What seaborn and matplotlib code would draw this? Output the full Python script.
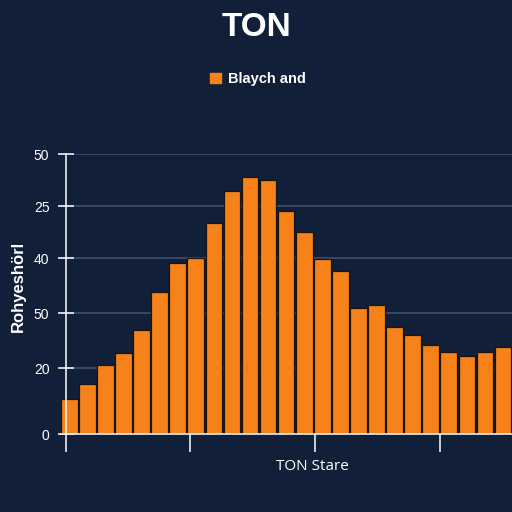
import numpy as np
import pandas as pd
import matplotlib
matplotlib.use("Agg")
import matplotlib.pyplot as plt
import seaborn as sns

# values (in axis units of the drawn scale)
bins = list(range(25))
heights = [6.3, 9.1, 12.5, 14.7, 18.9, 25.9, 31.1, 32.1, 38.4, 44.2,
           46.9, 46.2, 40.7, 36.8, 31.8, 29.6, 23.0, 23.5, 19.5, 18.0,
           16.3, 15.0, 14.2, 14.9, 15.8]
ytick_pos = [0, 12, 22, 32, 41.5, 51]
ytick_labels = ["0", "20", "50", "40", "25", "50"]
xtick_pos = [-0.2, 6.7, 13.6, 20.5]

title = "TON"
series_name = "Blaych and"
xlabel = "TON Stare"
ylabel = "Rohyeshörl"

bg = "#121f38"
orange = "#f8821a"

sns.set_style("dark")
plt.rcParams["font.family"] = ["Liberation Sans", "DejaVu Sans"]

df = pd.DataFrame({"bin": bins, "value": heights})

fig = plt.figure(figsize=(5.12, 5.12), dpi=100, facecolor=bg)
ax = fig.add_axes([61 / 512, 1 - 434 / 512, 1 - 61 / 512, (434 - 154) / 512])
ax.set_facecolor(bg)

sns.barplot(data=df, x="bin", y="value", color=orange, saturation=1,
            width=0.92, edgecolor="#1a1510", linewidth=0.9, ax=ax)

ax.set_xlim(-0.46, 24.5)
ax.set_ylim(0, 51)

ax.set_yticks(ytick_pos)
ax.set_yticklabels(ytick_labels, family="Open Sans", fontsize=12, color="white")
ax.set_xticks(xtick_pos)
ax.set_xticklabels([])

ax.yaxis.grid(True, color="#3f4e6c", linewidth=1.2)
ax.xaxis.grid(False)
ax.set_axisbelow(True)

for s in ["top", "right"]:
    ax.spines[s].set_visible(False)
ax.spines["left"].set_position(("data", -0.2))
ax.spines["left"].set_color("white")
ax.spines["left"].set_linewidth(1.1)
ax.spines["left"].set_visible(True)
ax.spines["bottom"].set_color("white")
ax.spines["bottom"].set_linewidth(1.1)
ax.spines["bottom"].set_visible(True)

ax.tick_params(axis="y", left=True, direction="inout", length=11.5, width=1.1,
               colors="white", pad=6)
ax.tick_params(axis="x", bottom=True, direction="out", length=13, width=1.1,
               colors="white")

ax.set_xlabel(xlabel, family="Open Sans", fontsize=11, color="white")
ax.xaxis.set_label_coords((312 - 61) / 451, -0.09)
ax.set_ylabel("")
fig.text(18 / 512, 1 - 286 / 512, ylabel, rotation=90, color="white",
         fontsize=12, fontweight="bold", ha="center", va="center")

fig.text(0.5, 1 - 28 / 512, title, color="white", fontsize=24,
         fontweight="bold", ha="center", va="center")

handle = plt.Rectangle((0, 0), 1, 1, color=orange)
leg = fig.legend([handle], [series_name], loc="center",
                 bbox_to_anchor=(258 / 512, 1 - 79 / 512), frameon=False,
                 handlelength=0.75, handleheight=0.75, handletextpad=0.45,
                 prop={"weight": "bold", "size": 10.5})
for t in leg.get_texts():
    t.set_color("white")

fig.savefig("out.png", dpi=100, facecolor=bg)
